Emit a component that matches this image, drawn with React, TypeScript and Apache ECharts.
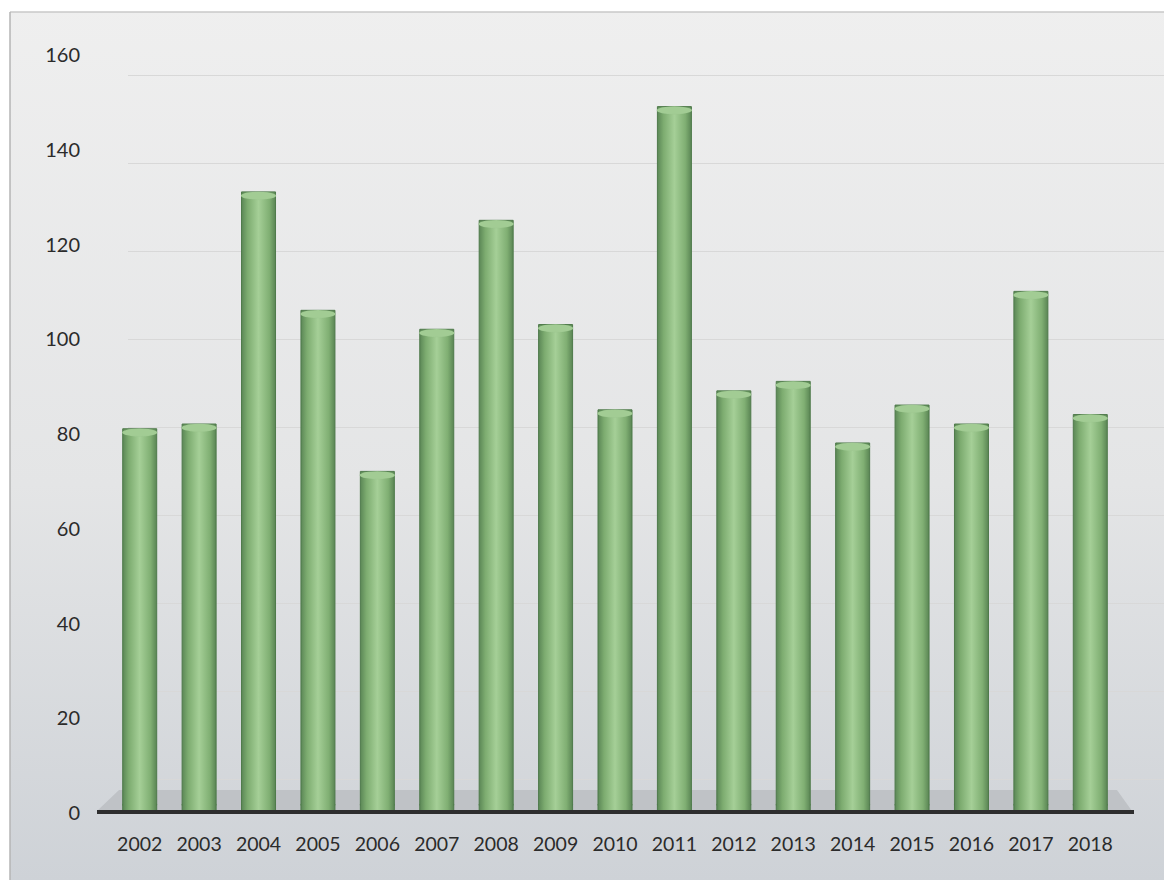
import React, { useEffect, useRef } from "react";
import * as echarts from "echarts";

const years = ["2002","2003","2004","2005","2006","2007","2008","2009","2010","2011","2012","2013","2014","2015","2016","2017","2018"];
const values = [81, 82, 131, 106, 72, 102, 125, 103, 85, 149, 89, 91, 78, 86, 82, 110, 84];
const yTicks = { min: 0, max: 160, interval: 20 };

export default function App() {
  const ref = useRef<HTMLDivElement>(null);
  useEffect(() => {
    if (!ref.current) return;
    const chart = echarts.init(ref.current, null, { renderer: "svg" });
    const font = "Lato, 'Open Sans', sans-serif";
    const barGrad = new echarts.graphic.LinearGradient(0, 0, 1, 0, [
      { offset: 0, color: "#5b8756" },
      { offset: 0.18, color: "#7dac70" },
      { offset: 0.5, color: "#a5cf97" },
      { offset: 0.82, color: "#80af73" },
      { offset: 1, color: "#5a8554" },
    ]);
    chart.setOption({
      animation: false,
      backgroundColor: new echarts.graphic.LinearGradient(0, 0, 0, 1, [
        { offset: 0, color: "#efefef" },
        { offset: 0.55, color: "#e4e5e6" },
        { offset: 1, color: "#ced2d7" },
      ]),
      grid: [
        { left: 110, right: 44, top: 54, bottom: 68 },
        { left: 128, right: 0, top: 75, bottom: 101 },
      ],
      xAxis: [
        {
          type: "category",
          data: years,
          gridIndex: 0,
          axisLine: { show: false },
          axisTick: { show: false },
          axisLabel: { color: "#2b2b2b", fontSize: 19.5, fontFamily: font, margin: 21 },
        },
        { type: "category", data: years, gridIndex: 1, show: false },
      ],
      yAxis: [
        {
          type: "value",
          gridIndex: 0,
          min: yTicks.min,
          max: yTicks.max,
          interval: yTicks.interval,
          axisLine: { show: false },
          axisTick: { show: false },
          splitLine: { show: false },
          axisLabel: { color: "#2b2b2b", fontSize: 20, fontFamily: font, margin: 30 },
        },
        {
          type: "value",
          gridIndex: 1,
          min: yTicks.min,
          max: yTicks.max,
          interval: yTicks.interval,
          axisLine: { show: false },
          axisTick: { show: false },
          axisLabel: { show: false },
          splitLine: { show: true, lineStyle: { color: "#d8d8d8", width: 1 } },
        },
      ],
      graphic: [
        {
          type: "polygon",
          z: 1,
          shape: { points: [[97, 811], [1132, 811], [1117, 790], [119, 790]] },
          style: { fill: "#bfc2c6" },
        },
        {
          type: "line",
          z: 50,
          shape: { x1: 97, y1: 812, x2: 1134, y2: 812 },
          style: { stroke: "#2e2e2e", lineWidth: 4 },
        },
        { type: "rect", z: 100, shape: { x: 0, y: 0, width: 1164, height: 12 }, style: { fill: "#ffffff" } },
        { type: "rect", z: 100, shape: { x: 0, y: 0, width: 10, height: 880 }, style: { fill: "#ffffff" } },
        { type: "line", z: 101, shape: { x1: 10, y1: 12, x2: 1164, y2: 12 }, style: { stroke: "#c8c8c8", lineWidth: 1.5 } },
        { type: "line", z: 101, shape: { x1: 10, y1: 12, x2: 10, y2: 880 }, style: { stroke: "#b4b4b4", lineWidth: 1.5 } },
      ],
      series: [
        {
          type: "bar",
          xAxisIndex: 0,
          yAxisIndex: 0,
          data: values,
          barWidth: 35,
          z: 5,
          itemStyle: { color: barGrad, borderColor: "#4f7a4b", borderWidth: 1 },
        },
        {
          type: "pictorialBar",
          xAxisIndex: 0,
          yAxisIndex: 0,
          data: values,
          symbol: "circle",
          symbolSize: [35, 8],
          symbolPosition: "end",
          symbolOffset: [0, 0],
          z: 6,
          itemStyle: { color: "#a2cc94", borderColor: "#6a9663", borderWidth: 1 },
        },
        {
          type: "pictorialBar",
          xAxisIndex: 0,
          yAxisIndex: 0,
          data: values,
          symbol: "circle",
          symbolSize: [35, 8],
          symbolPosition: "start",
          symbolOffset: [0, "-40%"],
          z: 4,
          itemStyle: { color: barGrad },
        },
      ],
    });
    return () => chart.dispose();
  }, []);
  return (
    <div
      ref={ref}
      style={{ position: "fixed", left: 0, top: 0, width: 1164, height: 880 }}
    />
  );
}
